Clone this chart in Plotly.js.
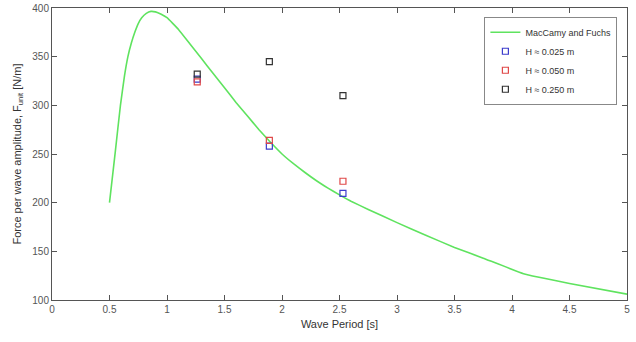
<!DOCTYPE html>
<html>
<head>
<meta charset="utf-8">
<script src="https://cdn.plot.ly/plotly-3.0.1.min.js"></script>
<style>html,body{margin:0;padding:0;background:#fff;}#chart{width:636px;height:342px;}</style>
</head>
<body>
<div id="chart"></div>
<script>
// MacCamy and Fuchs curve
const mfPeriod = [0.5, 0.55, 0.595, 0.63, 0.66, 0.69, 0.72, 0.75, 0.78, 0.82, 0.86, 0.9, 0.95, 1.0, 1.1, 1.2, 1.3, 1.4, 1.5, 1.6, 1.7, 1.8, 1.9, 2.0, 2.1, 2.2, 2.3, 2.4, 2.5, 2.6, 2.75, 3.0, 3.25, 3.5, 3.75, 4.1, 4.5, 5.0];
const mfForce  = [200, 252, 300, 330, 350, 364, 375, 384, 390, 394.5, 396.5, 396, 393.5, 390, 378, 363, 348, 333, 318, 303, 289, 275, 262, 250, 240, 231, 222.5, 215, 208, 201.5, 193, 179.5, 166.5, 154, 143, 127, 117, 106];

// Measurements
const expPeriod = [1.263, 1.89, 2.53];
const forceH025 = [327, 258, 209.5];
const forceH050 = [324, 264, 222];
const forceH250 = [332, 345, 310];

const seriesNames = ["MacCamy and Fuchs", "H \u2248 0.025 m", "H \u2248 0.050 m", "H \u2248 0.250 m"];
const xTicks = [0, 0.5, 1, 1.5, 2, 2.5, 3, 3.5, 4, 4.5, 5];
const yTicks = [100, 150, 200, 250, 300, 350, 400];

const sq = (c) => ({symbol: 'square-open', size: 6, color: c, line: {width: 1.2, color: c}});

const traces = [
  {x: mfPeriod, y: mfForce, mode: 'lines', name: seriesNames[0],
   line: {color: '#5fe35f', width: 1.6, shape: 'spline', smoothing: 0.3}},
  {x: expPeriod, y: forceH025, mode: 'markers', name: seriesNames[1], marker: sq('#3c3ccc')},
  {x: expPeriod, y: forceH050, mode: 'markers', name: seriesNames[2], marker: sq('#e04848')},
  {x: expPeriod, y: forceH250, mode: 'markers', name: seriesNames[3], marker: sq('#333333')}
];

const axisCommon = {
  showgrid: false, zeroline: false, showline: true, linecolor: '#555', linewidth: 1,
  mirror: 'ticks', ticks: 'inside', ticklen: 5, tickcolor: '#555', tickwidth: 1,
  tickfont: {family: 'Liberation Sans, Arial, sans-serif', size: 10, color: '#555'}
};

const layout = {
  width: 636, height: 342,
  margin: {l: 52, r: 9, t: 8, b: 42},
  paper_bgcolor: '#fff', plot_bgcolor: '#fff',
  showlegend: true,
  xaxis: Object.assign({}, axisCommon, {
    range: [0, 5], tickvals: xTicks, ticktext: xTicks.map(String),
    title: {text: 'Wave Period [s]', standoff: 6, font: {family: 'Liberation Sans, Arial, sans-serif', size: 11, color: '#333'}}
  }),
  yaxis: Object.assign({}, axisCommon, {
    range: [100, 400], tickvals: yTicks, ticktext: yTicks.map(String),
    title: {text: 'Force per wave amplitude, F<sub>unit</sub> [N/m]', standoff: 8, font: {family: 'Liberation Sans, Arial, sans-serif', size: 11, color: '#333'}}
  }),
  legend: {
    x: 0.752, y: 0.97, xanchor: 'left', yanchor: 'top',
    bgcolor: '#fff', bordercolor: '#888', borderwidth: 1,
    font: {family: 'Liberation Sans, Arial, sans-serif', size: 9, color: '#333'},
    tracegroupgap: 0, itemwidth: 30
  }
};

Plotly.newPlot('chart', traces, layout, {displayModeBar: false, staticPlot: true});
</script>
</body>
</html>
